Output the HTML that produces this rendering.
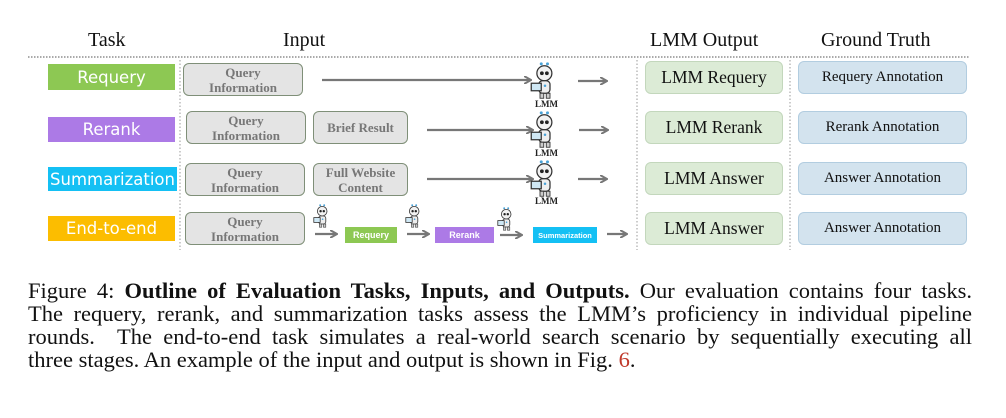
<!DOCTYPE html>
<html><head><meta charset="utf-8">
<style>
body{margin:0;background:#fff;width:1006px;height:418px;position:relative;overflow:hidden;font-family:"Liberation Serif",serif;}
.a{position:absolute;}
.hdr{position:absolute;font-size:20px;color:#111;top:29px;}
.task{position:absolute;left:48px;width:127px;color:#fff;font-family:"DejaVu Sans",sans-serif;font-size:16.5px;text-align:center;display:flex;align-items:center;justify-content:center;}
.gbox{position:absolute;background:#e4e4e4;border:1.5px solid #7f8f78;border-radius:6px;color:#777;font-weight:bold;font-size:13px;line-height:15px;text-align:center;display:flex;align-items:center;justify-content:center;box-sizing:border-box;}
.out{position:absolute;left:645px;width:138px;height:33px;background:#dcebd6;border:1.5px solid #c3d7bc;border-radius:6px;box-sizing:border-box;font-size:17.5px;color:#111;display:flex;align-items:center;justify-content:center;}
.gt{position:absolute;left:798px;width:169px;height:33px;background:#d3e3ee;border:1.5px solid #b2cde0;border-radius:6px;box-sizing:border-box;font-size:15px;color:#111;display:flex;align-items:center;justify-content:center;}
.sm{position:absolute;color:#fff;font-family:"Liberation Sans",sans-serif;font-size:9px;font-weight:bold;display:flex;align-items:center;justify-content:center;height:16px;top:227px;}
.lmm{position:absolute;font-size:9px;font-weight:bold;color:#222;}
.cl{position:absolute;left:28px;width:944px;font-size:22.5px;line-height:23px;color:#111;text-align:justify;text-align-last:justify;white-space:nowrap;}
</style></head><body>
<div class="hdr" style="left:88px">Task</div>
<div class="hdr" style="left:283px">Input</div>
<div class="hdr" style="left:650px">LMM Output</div>
<div class="hdr" style="left:821px">Ground Truth</div>

<svg class="a" style="left:0;top:0" width="1006" height="260">
<defs>
<marker id="ah" markerWidth="8" markerHeight="8" refX="6" refY="4" orient="auto" markerUnits="userSpaceOnUse"><path d="M0,0 L7,4 L0,8" fill="none" stroke="#777" stroke-width="2"/></marker>
<g id="rb">
<circle cx="9" cy="1.5" r="1.2" fill="#4aa3d8"/><circle cx="14" cy="1.5" r="1.2" fill="#4aa3d8"/>
<circle cx="11.5" cy="9" r="6" fill="#f2f2f2" stroke="#333" stroke-width="1"/>
<circle cx="9.5" cy="9" r="1.5" fill="#222"/><circle cx="13.5" cy="9" r="1.5" fill="#222"/>
<rect x="7" y="15" width="9" height="10" rx="3" fill="#eee" stroke="#333" stroke-width="1"/>
<rect x="1" y="17" width="8" height="6" fill="#cfe8f5" stroke="#333" stroke-width="1"/>
<circle cx="12" cy="19" r="1" fill="#4aa3d8"/>
<rect x="8" y="25" width="3" height="4" fill="#ccc" stroke="#333" stroke-width=".7"/><rect x="13" y="25" width="3" height="4" fill="#ccc" stroke="#333" stroke-width=".7"/>
</g>
</defs>
<line x1="28" y1="57" x2="970" y2="57" stroke="#777" stroke-width="1.2" stroke-dasharray="1.5,1.5"/>
<line x1="180" y1="60" x2="180" y2="250" stroke="#999" stroke-width="1" stroke-dasharray="1.5,2"/>
<line x1="637" y1="60" x2="637" y2="250" stroke="#999" stroke-width="1" stroke-dasharray="1.5,2"/>
<line x1="790" y1="60" x2="790" y2="250" stroke="#999" stroke-width="1" stroke-dasharray="1.5,2"/>
<g stroke="#777" stroke-width="2.2" fill="none">
<line x1="322" y1="80" x2="530" y2="80" marker-end="url(#ah)"/>
<line x1="427" y1="130" x2="532" y2="130" marker-end="url(#ah)"/>
<line x1="427" y1="179" x2="532" y2="179" marker-end="url(#ah)"/>
<line x1="578" y1="81" x2="606" y2="81" marker-end="url(#ah)"/>
<line x1="579" y1="130" x2="607" y2="130" marker-end="url(#ah)"/>
<line x1="578" y1="179" x2="606" y2="179" marker-end="url(#ah)"/>
<line x1="315" y1="234" x2="336" y2="234" marker-end="url(#ah)"/>
<line x1="407" y1="234" x2="428" y2="234" marker-end="url(#ah)"/>
<line x1="500" y1="235" x2="521" y2="235" marker-end="url(#ah)"/>
<line x1="607" y1="234" x2="626" y2="234" marker-end="url(#ah)"/>
</g>
<use href="#rb" transform="translate(530,62) scale(1.25)"/>
<use href="#rb" transform="translate(530,111) scale(1.25)"/>
<use href="#rb" transform="translate(530,160) scale(1.25)"/>
<use href="#rb" transform="translate(313,204) scale(0.8)"/>
<use href="#rb" transform="translate(405,204) scale(0.8)"/>
<use href="#rb" transform="translate(497,207) scale(0.8)"/>
</svg>
<div class="lmm" style="left:535px;top:99px">LMM</div>
<div class="lmm" style="left:535px;top:148px">LMM</div>
<div class="lmm" style="left:535px;top:196px">LMM</div>

<div class="task" style="top:64px;height:26px;background:#8dc853">Requery</div>
<div class="task" style="top:117px;height:25px;background:#ac7ae6">Rerank</div>
<div class="task" style="top:167px;height:24px;background:#14c0f4;width:129px">Summarization</div>
<div class="task" style="top:216px;height:25px;background:#fcbd00">End-to-end</div>

<div class="gbox" style="left:183px;top:63px;width:120px;height:33px">Query<br>Information</div>
<div class="gbox" style="left:186px;top:111px;width:120px;height:33px">Query<br>Information</div>
<div class="gbox" style="left:185px;top:163px;width:120px;height:33px">Query<br>Information</div>
<div class="gbox" style="left:185px;top:212px;width:120px;height:33px">Query<br>Information</div>
<div class="gbox" style="left:313px;top:111px;width:95px;height:33px">Brief Result</div>
<div class="gbox" style="left:313px;top:163px;width:95px;height:33px">Full Website<br>Content</div>

<div class="sm" style="left:345px;width:52px;background:#8dc853">Requery</div>
<div class="sm" style="left:435px;width:59px;background:#ac7ae6">Rerank</div>
<div class="sm" style="left:533px;width:64px;background:#14c0f4;font-size:7.5px">Summarization</div>

<div class="out" style="top:61px">LMM Requery</div>
<div class="out" style="top:111px">LMM Rerank</div>
<div class="out" style="top:162px">LMM Answer</div>
<div class="out" style="top:212px">LMM Answer</div>
<div class="gt" style="top:61px">Requery Annotation</div>
<div class="gt" style="top:111px">Rerank Annotation</div>
<div class="gt" style="top:162px">Answer Annotation</div>
<div class="gt" style="top:212px">Answer Annotation</div>

<div class="cl" style="top:279px">Figure 4: <b>Outline of Evaluation Tasks, Inputs, and Outputs.</b> Our evaluation contains four tasks.</div>
<div class="cl" style="top:302px">The requery, rerank, and summarization tasks assess the LMM’s proficiency in individual pipeline</div>
<div class="cl" style="top:325px">rounds.&nbsp; The end-to-end task simulates a real-world search scenario by sequentially executing all</div>
<div class="cl" style="top:348px;text-align-last:left">three stages. An example of the input and output is shown in Fig. <span style="color:#c0392b">6</span>.</div>
</body></html>
